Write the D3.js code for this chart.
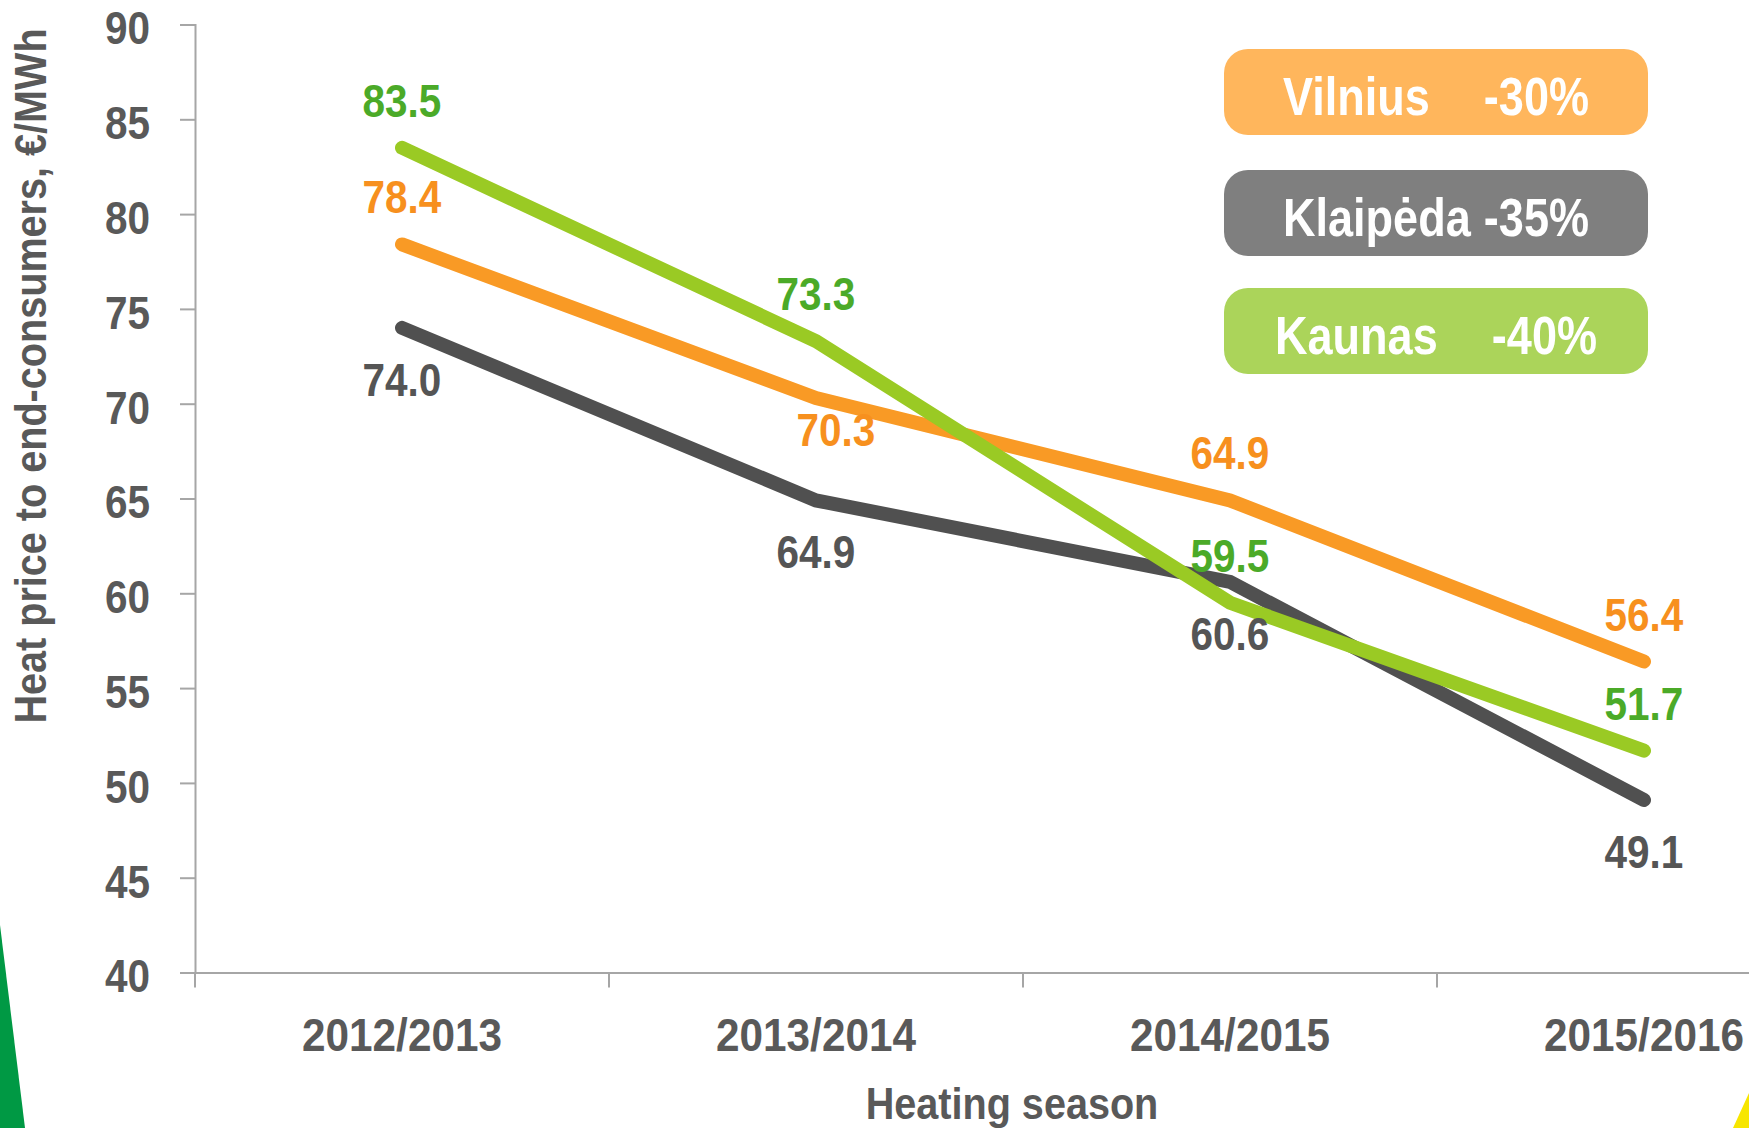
<!DOCTYPE html>
<html>
<head>
<meta charset="utf-8">
<script src="https://cdnjs.cloudflare.com/ajax/libs/d3/7.8.5/d3.min.js"></script>
<style>
  body { margin: 0; background: #fff; }
  svg { display: block; }
  text { font-family: "Liberation Sans", Arial, sans-serif; font-weight: bold; }
</style>
</head>
<body>
<svg width="1749" height="1128"></svg>
<script>
var seasons = ["2012/2013", "2013/2014", "2014/2015", "2015/2016"];
var yTicks = [40, 45, 50, 55, 60, 65, 70, 75, 80, 85, 90];

var vilnius  = [78.4, 70.3, 64.9, 56.4];
var klaipeda = [74.0, 64.9, 60.6, 49.1];
var kaunas   = [83.5, 73.3, 59.5, 51.7];

var legendNames = ["Vilnius", "Klaipėda", "Kaunas"];
var legendChange = ["-30%", "-35%", "-40%"];

// label side per point: "a" above the line, "b" below it
var vilniusSide  = ["a", "b", "a", "a"];
var klaipedaSide = ["b", "b", "b", "b"];
var kaunasSide   = ["a", "a", "a", "a"];

var svg = d3.select("svg"),
    width = +svg.attr("width"),
    height = +svg.attr("height");

var x0 = 195, yTop = 24.5, yBot = 972.5, band = 414;
var K = 0.88; // the original uses a condensed face, squeeze Liberation Sans to match

// squeeze a text horizontally around its anchor
function condense(sel, k) {
  sel.each(function() {
    var t = d3.select(this);
    var xx = +t.attr("x") || 0;
    t.attr("x", xx / k)
     .attr("transform", (t.attr("transform") || "") + " scale(" + k + ",1)");
  });
}

var x = d3.scaleBand()
    .domain(seasons)
    .range([x0, x0 + band * seasons.length])
    .padding(0);

var y = d3.scaleLinear()
    .domain([40, 90])
    .range([yBot, yTop]);

// corner decorations
svg.append("path")
    .attr("d", "M0,925L25," + height + "L0," + height + "Z")
    .attr("fill", "#009944");
svg.append("path")
    .attr("d", "M" + width + ",1093L" + width + "," + height + "L1733," + height + "Z")
    .attr("fill", "#F7E600");

// y axis
var yAxis = svg.append("g")
    .attr("transform", "translate(" + x0 + ",0)")
    .call(d3.axisLeft(y).tickValues(yTicks).tickSize(15).tickPadding(30));
yAxis.select(".domain").attr("stroke", "#A6A6A6").attr("stroke-width", 2);
yAxis.selectAll(".tick line").attr("stroke", "#A6A6A6").attr("stroke-width", 2);
yAxis.selectAll("text")
    .attr("fill", "#595959")
    .style("font-size", "46px")
    .attr("dy", "0.42em")
    .call(condense, K);

// x axis
var xAxis = svg.append("g")
    .attr("transform", "translate(0," + yBot + ")")
    .call(d3.axisBottom(x).tickSize(0).tickPadding(46));
xAxis.select(".domain").attr("stroke", "#A6A6A6").attr("stroke-width", 2);
xAxis.selectAll("text")
    .attr("fill", "#595959")
    .style("font-size", "46px")
    .call(condense, 0.92);

// x boundary ticks between bands
svg.append("g").selectAll("line")
    .data(seasons)
    .enter().append("line")
    .attr("x1", function(d) { return x(d); })
    .attr("x2", function(d) { return x(d); })
    .attr("y1", yBot)
    .attr("y2", yBot + 15)
    .attr("stroke", "#A6A6A6")
    .attr("stroke-width", 2);

// axis titles
svg.append("text")
    .attr("transform", "translate(46,376) rotate(-90)")
    .attr("text-anchor", "middle")
    .attr("fill", "#595959")
    .style("font-size", "45px")
    .text("Heat price to end-consumers, €/MWh")
    .call(condense, K);

svg.append("text")
    .attr("x", 1012)
    .attr("y", 1119)
    .attr("text-anchor", "middle")
    .attr("fill", "#595959")
    .style("font-size", "45px")
    .text("Heating season")
    .call(condense, K);

// lines
var series = [
  { values: klaipeda, side: klaipedaSide, line: "#505050", label: "#555555" },
  { values: vilnius,  side: vilniusSide,  line: "#F99A25", label: "#F7901E" },
  { values: kaunas,   side: kaunasSide,   line: "#9ACA24", label: "#4BAA28" }
];

var cx = function(i) { return x(seasons[i]) + x.bandwidth() / 2; };

var line = d3.line()
    .x(function(d, i) { return cx(i); })
    .y(function(d) { return y(d); });

svg.append("g").selectAll("path")
    .data(series)
    .enter().append("path")
    .attr("d", function(s) { return line(s.values); })
    .attr("fill", "none")
    .attr("stroke", function(s) { return s.line; })
    .attr("stroke-width", 14)
    .attr("stroke-linecap", "round")
    .attr("stroke-linejoin", "miter");

// value labels
series.forEach(function(s) {
  svg.append("g").selectAll("text")
      .data(s.values)
      .enter().append("text")
      .attr("x", function(d, i) { return cx(i) + (s.values === vilnius && i === 1 ? 20 : 0); })
      .attr("y", function(d, i) {
        if (s.side[i] === "a") return y(d) - 31;
        return y(d) + (s.values === vilnius ? 48 : 68);
      })
      .attr("text-anchor", "middle")
      .attr("fill", s.label)
      .style("font-size", "46px")
      .text(function(d) { return d.toFixed(1); })
      .call(condense, K);
});

// legend boxes
var legendFill = ["#FFB65C", "#7F7F7F", "#ABD45A"];
var legendTop = [49, 170, 288];
var legendLeft = [59, 59, 51];
var legendRight = [365, 365, 373];

var lg = svg.append("g").selectAll("g")
    .data(legendNames)
    .enter().append("g")
    .attr("transform", function(d, i) { return "translate(1224," + legendTop[i] + ")"; });

lg.append("rect")
    .attr("width", 424)
    .attr("height", 86)
    .attr("rx", 24)
    .attr("fill", function(d, i) { return legendFill[i]; });

lg.append("text")
    .attr("x", function(d, i) { return legendLeft[i]; })
    .attr("y", 66)
    .attr("fill", "#fff")
    .style("font-size", "53px")
    .text(function(d) { return d; })
    .call(condense, 0.85);

lg.append("text")
    .attr("x", function(d, i) { return legendRight[i]; })
    .attr("y", 66)
    .attr("text-anchor", "end")
    .attr("fill", "#fff")
    .style("font-size", "53px")
    .text(function(d, i) { return legendChange[i]; })
    .call(condense, 0.85);
</script>
</body>
</html>
